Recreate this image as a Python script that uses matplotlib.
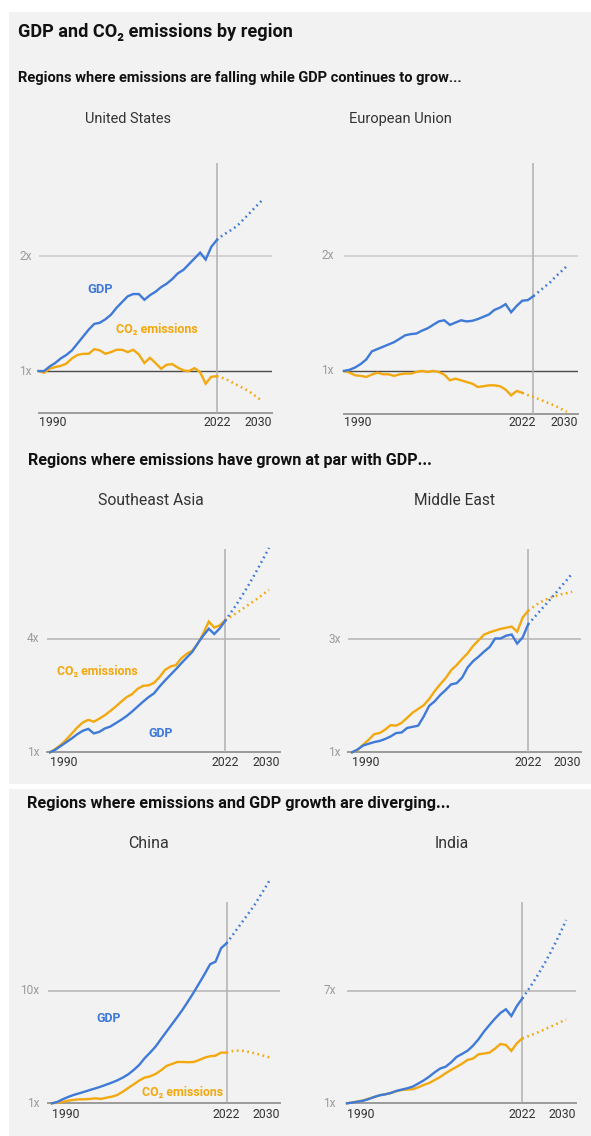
import matplotlib
matplotlib.use("Agg")
import matplotlib.pyplot as plt
import matplotlib.transforms as mtransforms
from matplotlib.patches import Rectangle

# ---------------------------------------------------------------- data
years_hist = list(range(1990, 2023))          # 1990-2022
years_proj = list(range(2023, 2031))          # 2023-2030
eu_gdp_years = list(range(1990, 2025))        # EU GDP history runs to 2024
eu_gdp_proj_years = list(range(2025, 2031))

x_tick_labels = ["1990", "2022", "2030"]

us_gdp = [1.00, 1.00, 1.04, 1.07, 1.11, 1.14, 1.18, 1.24, 1.30, 1.36, 1.41,
          1.42, 1.45, 1.49, 1.55, 1.60, 1.65, 1.67, 1.67, 1.62, 1.66, 1.69,
          1.73, 1.76, 1.80, 1.85, 1.88, 1.93, 1.98, 2.03, 1.97, 2.08, 2.14]
us_gdp_proj = [2.18, 2.21, 2.24, 2.28, 2.33, 2.38, 2.43, 2.48]
us_co2 = [1.00, 0.985, 1.02, 1.035, 1.045, 1.065, 1.11, 1.14, 1.15, 1.15, 1.19,
          1.18, 1.15, 1.165, 1.185, 1.185, 1.165, 1.185, 1.145, 1.07, 1.115,
          1.07, 1.02, 1.055, 1.06, 1.03, 1.005, 1.00, 1.025, 0.99, 0.89, 0.95,
          0.955]
us_co2_proj = [0.94, 0.92, 0.895, 0.87, 0.845, 0.815, 0.78, 0.745]

eu_gdp = [1.00, 1.01, 1.03, 1.06, 1.10, 1.17, 1.19, 1.21, 1.23, 1.25, 1.28,
          1.31, 1.32, 1.325, 1.35, 1.37, 1.40, 1.43, 1.44, 1.40, 1.42, 1.44,
          1.43, 1.435, 1.45, 1.47, 1.49, 1.53, 1.55, 1.58, 1.51, 1.565, 1.61,
          1.615, 1.65]
eu_gdp_proj = [1.69, 1.73, 1.77, 1.82, 1.865, 1.91]
eu_co2 = [1.00, 0.985, 0.962, 0.957, 0.948, 0.968, 0.985, 0.971, 0.971, 0.957,
          0.971, 0.977, 0.977, 0.991, 1.00, 0.991, 1.00, 0.991, 0.968, 0.919,
          0.933, 0.919, 0.904, 0.89, 0.861, 0.867, 0.875, 0.875, 0.867, 0.838,
          0.788, 0.826, 0.81]
eu_co2_proj = [0.79, 0.775, 0.755, 0.735, 0.715, 0.695, 0.67, 0.645]

sea_gdp = [1.00, 1.07, 1.17, 1.27, 1.37, 1.48, 1.57, 1.62, 1.50, 1.54, 1.63,
           1.68, 1.77, 1.86, 1.96, 2.08, 2.21, 2.34, 2.46, 2.56, 2.74, 2.90,
           3.05, 3.20, 3.36, 3.51, 3.66, 3.89, 4.09, 4.27, 4.13, 4.28, 4.48]
sea_gdp_proj = [4.69, 4.90, 5.13, 5.36, 5.61, 5.87, 6.14, 6.41]
sea_co2 = [1.00, 1.09, 1.20, 1.34, 1.50, 1.66, 1.79, 1.86, 1.81, 1.89, 1.98,
           2.09, 2.21, 2.34, 2.46, 2.54, 2.68, 2.76, 2.77, 2.84, 2.99, 3.18,
           3.27, 3.31, 3.49, 3.61, 3.69, 3.87, 4.15, 4.46, 4.30, 4.36, 4.50]
sea_co2_proj = [4.59, 4.68, 4.78, 4.88, 4.98, 5.08, 5.19, 5.30]

me_gdp = [1.00, 1.05, 1.12, 1.15, 1.18, 1.20, 1.235, 1.28, 1.34, 1.35, 1.43,
          1.45, 1.47, 1.63, 1.82, 1.90, 2.01, 2.10, 2.20, 2.22, 2.32, 2.50,
          2.61, 2.69, 2.78, 2.86, 3.01, 3.01, 3.06, 3.08, 2.92, 3.03, 3.26]
me_gdp_proj = [3.37, 3.48, 3.59, 3.70, 3.81, 3.93, 4.04, 4.16]
me_co2 = [1.00, 1.04, 1.135, 1.22, 1.32, 1.34, 1.40, 1.48, 1.47, 1.52, 1.61,
          1.70, 1.765, 1.83, 1.94, 2.08, 2.20, 2.31, 2.45, 2.54, 2.65, 2.75,
          2.88, 2.98, 3.08, 3.12, 3.15, 3.18, 3.20, 3.22, 3.13, 3.38, 3.50]
me_co2_proj = [3.57, 3.64, 3.69, 3.73, 3.76, 3.79, 3.81, 3.835]

china_gdp = [1.00, 1.11, 1.32, 1.51, 1.67, 1.80, 1.93, 2.07, 2.20, 2.34, 2.50,
             2.66, 2.84, 3.06, 3.32, 3.67, 4.07, 4.61, 5.06, 5.54, 6.15, 6.74,
             7.33, 7.92, 8.53, 9.20, 9.89, 10.62, 11.36, 12.14, 12.35, 13.42,
             13.82]
china_gdp_proj = [14.4, 15.0, 15.6, 16.2, 16.8, 17.5, 18.2, 18.95]
china_co2 = [1.00, 1.05, 1.11, 1.21, 1.27, 1.32, 1.32, 1.35, 1.40, 1.35, 1.45,
             1.53, 1.67, 1.93, 2.23, 2.52, 2.82, 3.06, 3.16, 3.35, 3.64, 3.99,
             4.15, 4.31, 4.31, 4.29, 4.31, 4.47, 4.66, 4.77, 4.82, 5.06, 5.06]
china_co2_proj = [5.18, 5.22, 5.20, 5.12, 5.02, 4.91, 4.79, 4.66]

india_gdp = [1.00, 1.04, 1.09, 1.14, 1.23, 1.34, 1.43, 1.48, 1.55, 1.66, 1.73,
             1.80, 1.89, 2.05, 2.22, 2.42, 2.65, 2.85, 2.95, 3.18, 3.47, 3.63,
             3.80, 4.07, 4.41, 4.82, 5.17, 5.51, 5.81, 6.01, 5.65, 6.18, 6.59]
india_gdp_proj = [7.01, 7.45, 7.92, 8.42, 8.95, 9.52, 10.12, 10.76]
india_co2 = [1.00, 1.05, 1.09, 1.16, 1.25, 1.34, 1.43, 1.48, 1.55, 1.64, 1.71,
             1.73, 1.75, 1.85, 1.98, 2.08, 2.24, 2.40, 2.60, 2.78, 2.94, 3.11,
             3.31, 3.38, 3.61, 3.65, 3.70, 3.91, 4.16, 4.11, 3.79, 4.20, 4.46]
india_co2_proj = [4.57, 4.68, 4.80, 4.93, 5.06, 5.19, 5.33, 5.47]

# ---------------------------------------------------------------- style
W, H, DPI = 591, 1136, 100
BLUE = "#3f7ad8"
ORANGE = "#f2a80f"
PANEL = "#f2f2f2"
FONT = ["Roboto", "DejaVu Sans"]
plt.rcParams["font.family"] = FONT

fig = plt.figure(figsize=(W / DPI, H / DPI), dpi=DPI)
fig.patch.set_facecolor("white")
renderer = fig.canvas.get_renderer()

# grey background panels (pixel boxes: left, top, right, bottom)
for (l, t, r, b) in [(9, 12, 591, 784), (9, 789, 591, 1136)]:
    fig.patches.append(Rectangle((l / W, 1 - b / H), (r - l) / W, (b - t) / H,
                                 transform=fig.transFigure, facecolor=PANEL,
                                 edgecolor="none", zorder=-10))


def put_text(x, y, s, width, ha="left", **kw):
    """Place text at pixel (x, baseline y) and scale it to a given pixel width."""
    t = fig.text(x / W, 1 - y / H, s, ha=ha, va="baseline", **kw)
    w = t.get_window_extent(renderer=renderer).width
    t.set_fontsize(t.get_fontsize() * width / w)
    return t


put_text(18, 37, "GDP and CO\u2082 emissions by region", 276,
         fontsize=14, weight="bold", color="#111111")
put_text(18.3, 82, "Regions where emissions are falling while GDP continues to grow...",
         442, fontsize=10, weight="bold", color="#111111")
put_text(28.3, 465, "Regions where emissions have grown at par with GDP...",
         404, fontsize=10, weight="bold", color="#111111")
put_text(26.7, 808, "Regions where emissions and GDP growth are diverging...",
         424, fontsize=10, weight="bold", color="#111111")

charts = [
    dict(title="United States", tx=128, ty=123, tw=86.7,
         box=(38.5, 163, 272, 413), xlim=(1990, 2031.9), ylim=(0.635, 2.81),
         grid=[2], ticks=[(1, "1x"), (2, "2x")], ygap=7, xlab_off=9,
         split=2022, base_line=True,
         gdp=(years_hist, us_gdp, years_proj, us_gdp_proj),
         co2=(years_hist, us_co2, years_proj, us_co2_proj)),
    dict(title="European Union", tx=400, ty=123, tw=103.3,
         box=(344, 163, 578, 414), xlim=(1990, 2032), ylim=(0.626, 2.806),
         grid=[2], ticks=[(1, "1x"), (2, "2x")], ygap=10, xlab_off=9,
         split=2024, base_line=True,
         gdp=(eu_gdp_years, eu_gdp, eu_gdp_proj_years, eu_gdp_proj),
         co2=(years_hist, eu_co2, years_proj, eu_co2_proj)),
    dict(title="Southeast Asia", tx=150.8, ty=505, tw=106.3,
         box=(46.7, 549, 280, 752.3), xlim=(1989.4, 2032), ylim=(1, 6.38),
         grid=[4], ticks=[(1, "1x"), (4, "4x")], ygap=7.5, xlab_off=10,
         split=2022, base_line=False,
         gdp=(years_hist, sea_gdp, years_proj, sea_gdp_proj),
         co2=(years_hist, sea_co2, years_proj, sea_co2_proj)),
    dict(title="Middle East", tx=454.3, ty=505, tw=81.3,
         box=(347.7, 549, 581, 752.3), xlim=(1989.2, 2031.6), ylim=(1, 4.59),
         grid=[3], ticks=[(1, "1x"), (3, "3x")], ygap=7, xlab_off=10,
         split=2022, base_line=False,
         gdp=(years_hist, me_gdp, years_proj, me_gdp_proj),
         co2=(years_hist, me_co2, years_proj, me_co2_proj)),
    dict(title="China", tx=148.8, ty=848, tw=41,
         box=(48, 901.7, 280, 1103.3), xlim=(1989.3, 2031.8), ylim=(1, 17.15),
         grid=[10], ticks=[(1, "1x"), (10, "10x")], ygap=8.5, xlab_off=11,
         split=2022, base_line=False,
         gdp=(years_hist, china_gdp, years_proj, china_gdp_proj),
         co2=(years_hist, china_co2, years_proj, china_co2_proj)),
    dict(title="India", tx=451.5, ty=848, tw=34.3,
         box=(347, 901.7, 576, 1103.3), xlim=(1990, 2031.8), ylim=(1, 11.74),
         grid=[7], ticks=[(1, "1x"), (7, "7x")], ygap=11, xlab_off=11,
         split=2022, base_line=False,
         gdp=(years_hist, india_gdp, years_proj, india_gdp_proj),
         co2=(years_hist, india_co2, years_proj, india_co2_proj)),
]

axes = {}
for c in charts:
    l, t, r, b = c["box"]
    ax = fig.add_axes([l / W, 1 - b / H, (r - l) / W, (b - t) / H])
    ax.set_facecolor("none")
    ax.set_xlim(*c["xlim"])
    ax.set_ylim(*c["ylim"])
    for s in ax.spines.values():
        s.set_visible(False)
    ax.set_xticks([])
    ax.set_yticks([])

    put_text(c["tx"], c["ty"], c["title"], c["tw"], ha="center",
             fontsize=10.5, color="#333333")

    # grid, reference and base lines
    for g in c["grid"]:
        ax.axhline(g, color="#b4b4b4" if not c["base_line"] else "#cccccc",
                   lw=1.1, zorder=1)
    if c["base_line"]:
        ax.axhline(1, color="#4a4a4a", lw=1.0, zorder=1)
    ax.axhline(c["ylim"][0], color="#9a9a9a", lw=1.4, zorder=1, clip_on=False)
    ax.axvline(c["split"], color="#b0b0b0", lw=1.1, zorder=1)

    # y labels
    ytrans = mtransforms.offset_copy(ax.get_yaxis_transform(), fig=fig,
                                     x=-c["ygap"], y=0, units="dots")
    for v, lab in c["ticks"]:
        ax.text(0, v, lab, transform=ytrans, ha="right", va="center",
                fontsize=8.6, color="#9a9a9a")

    # x labels
    xtrans = mtransforms.offset_copy(ax.get_xaxis_transform(), fig=fig,
                                     x=0, y=-c["xlab_off"], units="dots")
    ax.text(1990, 0, x_tick_labels[0], transform=xtrans, ha="left",
            va="center", fontsize=8.8, color="#333333")
    ax.text(2022, 0, x_tick_labels[1], transform=xtrans, ha="center",
            va="center", fontsize=8.8, color="#333333")
    rtrans = mtransforms.offset_copy(ax.transAxes, fig=fig, x=0,
                                     y=-c["xlab_off"], units="dots")
    ax.text(1.0, 0, x_tick_labels[2], transform=rtrans, ha="right",
            va="center", fontsize=8.8, color="#333333")

    # series: solid history, dotted outlook
    for key, col in (("co2", ORANGE), ("gdp", BLUE)):
        hx, hy, px, py = c[key]
        ax.plot(hx, hy, color=col, lw=1.7, solid_joinstyle="miter",
                zorder=3, clip_on=False)
        ax.plot([hx[-1]] + px, [hy[-1]] + py, color=col, lw=1.8,
                linestyle=(0, (0.7, 1.4)), zorder=3, clip_on=False)
    axes[c["title"]] = ax

# inline series labels
lab_kw = dict(fontsize=9.5, weight="bold")
put_text(87, 293.3, "GDP", 26, color=BLUE, **lab_kw)
put_text(116, 332.7, "CO\u2082 emissions", 83, color=ORANGE, **lab_kw)
put_text(57, 675, "CO\u2082 emissions", 81, color=ORANGE, **lab_kw)
put_text(148, 736.7, "GDP", 25, color=BLUE, **lab_kw)
put_text(96, 1021.7, "GDP", 25, color=BLUE, **lab_kw)
put_text(142, 1095.7, "CO\u2082 emissions", 82, color=ORANGE, **lab_kw)

fig.savefig("out.png", dpi=DPI)
